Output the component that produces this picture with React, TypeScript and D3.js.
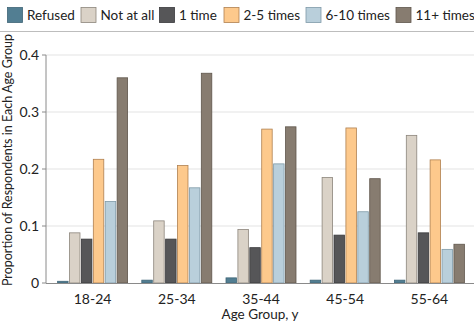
import React from "react";
import * as d3 from "d3";

const ageGroups = ["18-24", "25-34", "35-44", "45-54", "55-64"];
const seriesNames = ["Refused", "Not at all", "1 time", "2-5 times", "6-10 times", "11+ times"];
const refused = [0.003, 0.005, 0.009, 0.005, 0.005];
const notAtAll = [0.088, 0.109, 0.094, 0.185, 0.259];
const oneTime = [0.077, 0.077, 0.062, 0.084, 0.088];
const twoToFive = [0.217, 0.206, 0.270, 0.272, 0.216];
const sixToTen = [0.143, 0.167, 0.209, 0.125, 0.059];
const elevenPlus = [0.360, 0.368, 0.274, 0.183, 0.068];
const yTicks = [0, 0.1, 0.2, 0.3, 0.4];

const seriesValues = [refused, notAtAll, oneTime, twoToFive, sixToTen, elevenPlus];
const fills = ["#527e92", "#dad2c7", "#565658", "#fdc98c", "#b9cfdb", "#877c70"];
const strokes = ["#3f6577", "#8c857c", "#3a3a3c", "#b08050", "#7f9aa8", "#5f564c"];
const legendX = [7.5, 81, 159.5, 224, 306, 396];

const FONT = "Lato, 'Open Sans', sans-serif";

export default function App() {
  const W = 474, H = 323;
  const y = d3.scaleLinear().domain([0, 0.4]).range([283, 55]);
  const x0 = d3.scaleBand<string>().domain(ageGroups).range([50.5, 471.5]).padding(0);
  const groupW = 70;
  const x1 = d3.scaleBand<string>().domain(seriesNames).range([0, groupW]).paddingInner(0.12);
  const fmt = (v: number) => (v === 0 ? "0" : d3.format(".1f")(v));

  return (
    <svg width={W} height={H} style={{ position: "absolute", left: 0, top: 0, background: "#fff" }}>
      {/* legend */}
      {seriesNames.map((s, i) => (
        <g key={s}>
          <rect x={legendX[i]} y={7.5} width={15} height={15} fill={fills[i]} stroke={strokes[i]} strokeWidth={0.8} />
          <text x={legendX[i] + 19.5} y={20} fontFamily={FONT} fontSize={13.5} fill="#222">{s}</text>
        </g>
      ))}
      <line x1={0} x2={W} y1={31.5} y2={31.5} stroke="#bdbdbd" strokeWidth={1.2} />

      {/* grid */}
      {yTicks.filter((t) => t > 0).map((t) => (
        <line key={t} x1={46} x2={W} y1={y(t)} y2={y(t)} stroke="#e3e3e3" strokeWidth={1} />
      ))}
      {/* y axis */}
      <line x1={46} x2={46} y1={y(0.4)} y2={y(0)} stroke="#8a8a8a" strokeWidth={1} />
      {yTicks.map((t) => (
        <g key={t}>
          <line x1={42} x2={46} y1={y(t)} y2={y(t)} stroke="#8a8a8a" strokeWidth={1} />
          <text x={39} y={y(t)} dy="0.35em" textAnchor="end" fontFamily={FONT} fontSize={14} fill="#222">{fmt(t)}</text>
        </g>
      ))}

      {/* bars */}
      {ageGroups.map((g, gi) => {
        const gx = (x0(g) ?? 0) + (x0.bandwidth() - groupW) / 2;
        return (
          <g key={g} transform={`translate(${gx},0)`}>
            {seriesNames.map((s, si) => {
              const v = seriesValues[si][gi];
              return (
                <rect key={s} x={x1(s)} y={y(v)} width={x1.bandwidth()} height={y(0) - y(v)}
                  fill={fills[si]} stroke={strokes[si]} strokeWidth={0.8} />
              );
            })}
          </g>
        );
      })}
      <line x1={46} x2={W} y1={y(0) + 0.5} y2={y(0) + 0.5} stroke="#8a8a8a" strokeWidth={1} />

      {/* x labels */}
      {ageGroups.map((g) => (
        <text key={g} x={(x0(g) ?? 0) + x0.bandwidth() / 2} y={299} dy="0.35em" textAnchor="middle"
          fontFamily={FONT} fontSize={14} fill="#222">{g}</text>
      ))}
      <text x={260} y={314} dy="0.35em" textAnchor="middle" fontFamily={FONT} fontSize={13.5} fill="#222">Age Group, y</text>
      <text transform="translate(8,160) rotate(-90)" dy="0.35em" textAnchor="middle" fontFamily={FONT} fontSize={12.5} fill="#222">
        Proportion of Respondents in Each Age Group
      </text>
    </svg>
  );
}
